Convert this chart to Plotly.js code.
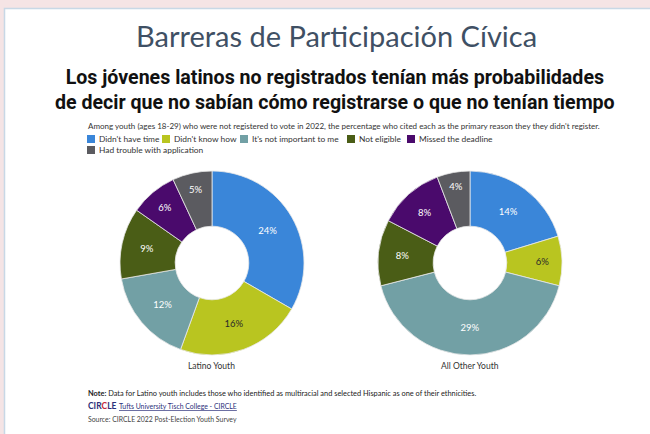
<!DOCTYPE html>
<html>
<head>
<meta charset="utf-8">
<script src="https://cdn.plot.ly/plotly-3.0.1.min.js"></script>
<style>
html,body{margin:0;padding:0;background:#f5e4e5;}
#chart{width:650px;height:434px;}
</style>
</head>
<body>
<div id="chart"></div>
<script>
// Data
const reasons = ["Didn't have time", "Didn't know how", "It's not important to me", "Not eligible", "Missed the deadline", "Had trouble with application"];
const latinoValues = [24, 16, 12, 9, 6, 5];
const otherValues = [14, 6, 29, 8, 8, 4];
const groupNames = ["Latino Youth", "All Other Youth"];
const colors = ["#3a86d9", "#b9c520", "#72a0a5", "#4a5d16", "#4a0a6c", "#5b5b60"];
const textColors = ["#ffffff", "#2a2a2a", "#ffffff", "#ffffff", "#ffffff", "#ffffff"];

const W = 650, H = 434;
const px = x => x / W;
const py = y => 1 - y / H;

function pie(values, cx, cy, r) {
  return {
    type: 'pie',
    values: values,
    labels: reasons,
    sort: false,
    direction: 'clockwise',
    rotation: 0,
    hole: 0.4,
    textinfo: 'text',
    text: values.map(v => v + '%'),
    textposition: 'inside',
    insidetextorientation: 'horizontal',
    textfont: {family: 'Lato, sans-serif', size: 9.5, color: textColors},
    marker: {colors: colors, line: {color: '#e8e8e8', width: 0.8}},
    domain: {x: [px(cx - r), px(cx + r)], y: [py(cy + r), py(cy - r)]},
    showlegend: false,
    hoverinfo: 'label+text'
  };
}

const data = [
  pie(latinoValues, 212, 263, 92),
  pie(otherValues, 470, 263, 92)
];

const annotations = [];
const shapes = [];

// card background
shapes.push({type: 'rect', xref: 'paper', yref: 'paper', x0: px(4.5), x1: px(660), y0: py(440), y1: py(8.5),
  fillcolor: '#ffffff', line: {color: '#c8d8e6', width: 1.5}, layer: 'below'});

// titles
annotations.push({text: 'Barreras de Participación Cívica', x: px(336), y: py(35), xref: 'paper', yref: 'paper',
  showarrow: false, xanchor: 'center', yanchor: 'middle',
  font: {family: 'Lato, sans-serif', size: 29, color: '#3f5064'}});
annotations.push({text: '<b>Los jóvenes latinos no registrados tenían más probabilidades<br>de decir que no sabían cómo registrarse o que no tenían tiempo</b>',
  x: px(335), y: py(90), xref: 'paper', yref: 'paper', showarrow: false, xanchor: 'center', yanchor: 'middle',
  font: {family: 'Roboto, sans-serif', size: 19.6, color: '#111111'}});
annotations.push({text: "Among youth (ages 18-29) who were not registered to vote in 2022, the percentage who cited each as the primary reason they they didn't register.",
  x: px(86), y: py(126), xref: 'paper', yref: 'paper', showarrow: false, xanchor: 'left', yanchor: 'middle',
  font: {family: 'Lato, sans-serif', size: 8, color: '#333333'}});

// legend
const legendPos = [[87, 139], [162, 139], [240, 139], [347, 139], [407, 139], [87, 150]];
reasons.forEach((r, i) => {
  const [lx, ly] = legendPos[i];
  shapes.push({type: 'rect', xref: 'paper', yref: 'paper', x0: px(lx), x1: px(lx + 8), y0: py(ly + 4), y1: py(ly - 4),
    fillcolor: colors[i], line: {width: 0}});
  annotations.push({text: r, x: px(lx + 10), y: py(ly), xref: 'paper', yref: 'paper', showarrow: false,
    xanchor: 'left', yanchor: 'middle', font: {family: 'Lato, sans-serif', size: 8.4, color: '#333333'}});
});

// group labels
[[212, groupNames[0]], [470, groupNames[1]]].forEach(([x, t]) => {
  annotations.push({text: t, x: px(x), y: py(366), xref: 'paper', yref: 'paper', showarrow: false,
    xanchor: 'center', yanchor: 'middle', font: {family: 'Lato, sans-serif', size: 8.5, color: '#333333'}});
});

// footer
annotations.push({text: '<b>Note:</b> Data for Latino youth includes those who identified as multiracial and selected Hispanic as one of their ethnicities.',
  x: px(86), y: py(393), xref: 'paper', yref: 'paper', showarrow: false, xanchor: 'left', yanchor: 'middle',
  font: {family: 'Lato, sans-serif', size: 7.4, color: '#222222'}});
annotations.push({text: '<b><span style="color:#2b2f7a">CIR</span><span style="color:#c8283a">C</span><span style="color:#2b2f7a">LE</span></b>',
  x: px(86), y: py(406), xref: 'paper', yref: 'paper', showarrow: false, xanchor: 'left', yanchor: 'middle',
  font: {family: 'Lato, sans-serif', size: 8.5, color: '#2b2f7a'}});
annotations.push({text: '<span style="text-decoration:underline">Tufts University Tisch College - CIRCLE</span>',
  x: px(117), y: py(406), xref: 'paper', yref: 'paper', showarrow: false, xanchor: 'left', yanchor: 'middle',
  font: {family: 'Lato, sans-serif', size: 6.9, color: '#2b2f7a'}});
annotations.push({text: 'Source: CIRCLE 2022 Post-Election Youth Survey',
  x: px(86), y: py(419), xref: 'paper', yref: 'paper', showarrow: false, xanchor: 'left', yanchor: 'middle',
  font: {family: 'Lato, sans-serif', size: 6.9, color: '#444444'}});

const layout = {
  width: W, height: H,
  margin: {l: 0, r: 0, t: 0, b: 0},
  paper_bgcolor: '#f5e4e5',
  plot_bgcolor: 'rgba(0,0,0,0)',
  showlegend: false,
  shapes: shapes,
  annotations: annotations
};

Plotly.newPlot('chart', data, layout, {displayModeBar: false, staticPlot: true});
</script>
</body>
</html>
